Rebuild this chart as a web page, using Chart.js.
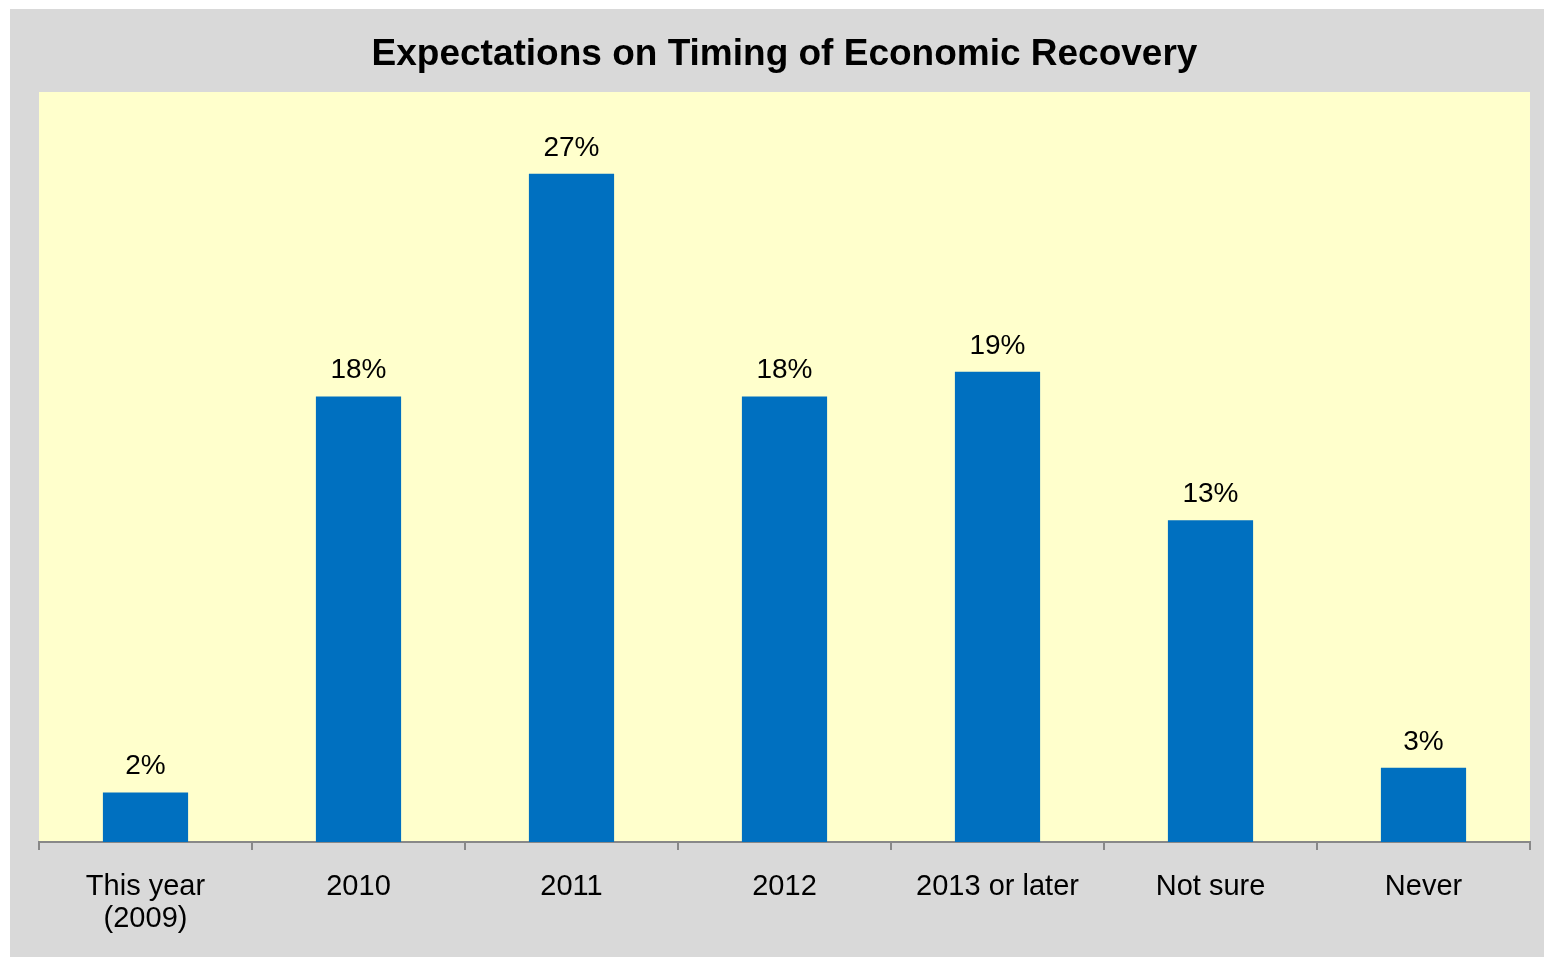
<!DOCTYPE html>
<html>
<head>
<meta charset="utf-8">
<title>Expectations on Timing of Economic Recovery</title>
<script src="https://cdn.jsdelivr.net/npm/chart.js@4.4.1/dist/chart.umd.min.js"></script>
<style>
  html, body { margin: 0; padding: 0; background: #ffffff; }
  #wrap { position: absolute; left: 10px; top: 9px; width: 1534px; height: 948px; }
</style>
</head>
<body>
<div id="wrap"><canvas id="recovery"></canvas></div>
<script>
// survey answers, percent of respondents
var categories = [['This year', '(2009)'], '2010', '2011', '2012', '2013 or later', 'Not sure', 'Never'];
var shares = [2, 18, 27, 18, 19, 13, 3];

var font = "'Liberation Sans', Arial, sans-serif";

// grey frame behind everything, pale yellow plot area
var backdrop = {
  id: 'backdrop',
  beforeDraw: function(chart) {
    var c = chart.ctx, a = chart.chartArea;
    c.save();
    c.fillStyle = '#d9d9d9';
    c.fillRect(0, 0, chart.width, chart.height);
    c.fillStyle = '#ffffcc';
    c.fillRect(a.left, a.top, a.right - a.left, a.bottom - a.top);
    c.restore();
  }
};

// percent labels above each bar
var valueLabels = {
  id: 'valueLabels',
  afterDatasetsDraw: function(chart) {
    var c = chart.ctx;
    var meta = chart.getDatasetMeta(0);
    c.save();
    c.font = '28px ' + font;
    c.fillStyle = '#000000';
    c.textAlign = 'center';
    c.textBaseline = 'alphabetic';
    meta.data.forEach(function(bar, i) {
      c.fillText(shares[i] + '%', bar.x, bar.y - 18);
    });
    c.restore();
  }
};

var ctx = document.getElementById('recovery').getContext('2d');
var chart = new Chart(ctx, {
  type: 'bar',
  data: {
    labels: categories,
    datasets: [{
      data: shares,
      backgroundColor: '#0070c0',
      borderWidth: 0,
      barPercentage: 0.4,
      categoryPercentage: 1.0
    }]
  },
  options: {
    responsive: true,
    maintainAspectRatio: false,
    animation: false,
    layout: { padding: { left: 29, right: 14, top: 0, bottom: 0 } },
    plugins: {
      legend: { display: false },
      tooltip: { enabled: false },
      title: {
        display: true,
        text: 'Expectations on Timing of Economic Recovery',
        color: '#000000',
        font: { family: font, size: 37, weight: 'bold', lineHeight: 1.2 },
        padding: { top: 24, bottom: 14.6 }
      }
    },
    scales: {
      x: {
        afterFit: function(scale) { scale.height = 115; },
        border: { display: true, color: '#888888', width: 2 },
        grid: {
          display: true,
          drawOnChartArea: false,
          drawTicks: true,
          tickLength: 8,
          color: '#888888',
          lineWidth: 2
        },
        ticks: {
          color: '#000000',
          padding: 21,
          maxRotation: 0,
          autoSkip: false,
          font: { family: font, size: 29, lineHeight: 1.1 }
        }
      },
      y: {
        display: false,
        min: 0,
        max: 30.3
      }
    }
  },
  plugins: [backdrop, valueLabels]
});
</script>
</body>
</html>
